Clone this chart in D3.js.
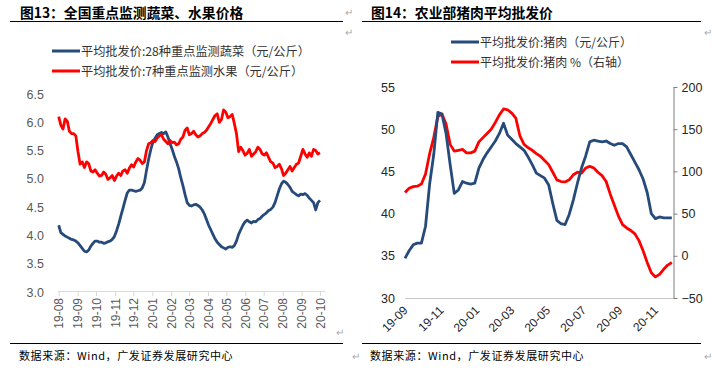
<!DOCTYPE html>
<html><head><meta charset="utf-8">
<script src="https://cdn.jsdelivr.net/npm/d3@7/dist/d3.min.js"></script>
<style>
body{margin:0;background:#fff;}
svg{display:block;font-family:Arial,"Liberation Sans","Noto Sans CJK SC",sans-serif;}
</style></head><body>
<svg id="c" width="712" height="369"></svg>
<script>
// ---------- Chart 13 data (every 3.5 days from 2019-08-01) ----------
const vegStart = "2019-08-01";
const vegPrice = [
  4.18,4.05,4.02,3.99,3.97,3.95,3.93,3.92,3.90,3.87,
  3.82,3.77,3.72,3.71,3.74,3.81,3.86,3.90,3.90,3.88,
  3.88,3.86,3.87,3.89,3.90,3.93,3.98,4.08,4.20,4.34,
  4.48,4.62,4.75,4.80,4.80,4.79,4.78,4.79,4.80,4.84,
  4.93,5.15,5.35,5.52,5.65,5.72,5.78,5.80,5.82,5.80,
  5.83,5.74,5.62,5.52,5.40,5.30,5.18,5.02,4.88,4.72,
  4.58,4.53,4.52,4.54,4.55,4.53,4.50,4.45,4.38,4.28,
  4.18,4.10,4.02,3.94,3.88,3.84,3.80,3.78,3.76,3.79,
  3.80,3.79,3.82,3.90,4.02,4.10,4.18,4.24,4.27,4.24,
  4.22,4.25,4.24,4.28,4.30,4.34,4.37,4.40,4.44,4.46,
  4.50,4.58,4.70,4.82,4.91,4.96,4.94,4.90,4.85,4.78,
  4.75,4.72,4.70,4.73,4.72,4.74,4.71,4.66,4.62,4.58,
  4.45,4.58,4.62];
const fruitPrice = [
  6.10,5.95,5.88,6.06,6.02,5.84,5.80,5.80,5.76,5.48,
  5.26,5.30,5.20,5.30,5.27,5.14,5.12,5.16,5.10,5.05,
  5.06,5.12,5.08,4.99,5.02,5.06,4.97,5.05,5.10,5.06,
  5.14,5.16,5.10,5.19,5.25,5.21,5.30,5.36,5.33,5.27,
  5.30,5.50,5.62,5.64,5.68,5.66,5.72,5.76,5.78,5.70,
  5.66,5.62,5.68,5.64,5.65,5.60,5.62,5.70,5.74,5.86,
  5.90,5.78,5.80,5.84,5.78,5.74,5.76,5.80,5.82,5.86,
  5.92,5.98,6.05,6.12,6.15,6.00,6.05,6.22,6.18,6.08,
  6.10,6.14,5.98,5.80,5.48,5.56,5.50,5.42,5.45,5.52,
  5.40,5.44,5.48,5.56,5.52,5.44,5.42,5.46,5.38,5.30,
  5.28,5.20,5.22,5.26,5.18,5.06,5.10,5.16,5.22,5.14,
  5.20,5.26,5.28,5.40,5.52,5.44,5.38,5.46,5.40,5.52,
  5.50,5.44,5.46];
const leftMonths = ["19-08","19-09","19-10","19-11","19-12","20-01","20-02","20-03","20-04","20-05","20-06","20-07","20-08","20-09","20-10"];
const leftYTicks = [3.0,3.5,4.0,4.5,5.0,5.5,6.0,6.5];

// ---------- Chart 14 data (weekly from 2019-09-01) ----------
const porkStart = "2019-09-01";
const porkPrice = [34.7,35.6,36.3,36.5,36.5,38.5,43.5,47.0,52.0,51.8,49.5,45.8,42.4,42.8,43.8,43.6,43.5,43.6,45.4,46.4,
  47.2,47.9,48.6,49.5,50.7,49.3,48.8,48.3,47.9,47.5,46.7,45.8,44.8,44.5,44.2,43.4,41.2,39.2,38.8,38.7,
  39.9,41.6,43.6,45.4,46.8,48.5,48.7,48.6,48.5,48.6,48.3,48.1,48.3,48.3,47.9,47.0,46.1,45.2,44.1,42.5,
  40.0,39.4,39.6,39.5,39.5,39.5];
const porkYoY = [75,80,82,82.5,85,97,121,140,165,168,156,132,124,125,126,122,122,124,135,140,
  145,150,158,167,174,173,169,163,142,132,128,125,121,118,113,108,99,90,88,87.5,
  90,96,99,98,104,106,104,99,95,88,73,60,47,37,33,30,26,18,6,-8,
  -20,-25,-22,-16,-11,-8];
const rightMonths = ["19-09","19-11","20-01","20-03","20-05","20-07","20-09","20-11"];
const rightLTicks = [30,35,40,45,50,55];
const rightRTicks = [-50,0,50,100,150,200];

const BLUE = "#264A7A", RED = "#FF0000";
const svg = d3.select("#c");
const parse = d3.timeParse("%Y-%m-%d");
const mparse = d3.timeParse("%y-%m");
const series = (start, n, hours) => d3.range(n).map(i => d3.timeHour.offset(parse(start), hours * i));

// ---------- frames / titles ----------
function frame(x0, x1, title, titleX) {
  svg.append("text").attr("x", titleX).attr("y", 18).attr("font-size", 13.8).attr("font-weight", "bold")
    .attr("font-family", "'Noto Sans CJK SC',sans-serif").attr("fill", "#000").text(title);
  svg.append("line").attr("x1", x0).attr("x2", x1).attr("y1", 21.5).attr("y2", 21.5).attr("stroke", "#000").attr("stroke-width", 1);
  svg.append("line").attr("x1", x0).attr("x2", x1).attr("y1", 343.5).attr("y2", 343.5).attr("stroke", "#000").attr("stroke-width", 1);
  svg.append("text").attr("x", titleX - 1).attr("y", 360).attr("font-size", 11).attr("letter-spacing", 0.6)
    .attr("font-family", "'Noto Sans CJK SC',sans-serif").attr("fill", "#000").text("数据来源：Wind，广发证券发展研究中心");
}
frame(10, 343, "图13：全国重点监测蔬菜、水果价格", 20);
frame(362, 701, "图14：农业部猪肉平均批发价", 371);
[[345,16],[345,36],[704,36],[704,360],[352,360],[336,336]].forEach(p =>
  svg.append("text").attr("x", p[0]).attr("y", p[1]).attr("font-size", 10).attr("fill", "#aaa").text("↵"));

function legend(x, y, color, label, fs) {
  svg.append("line").attr("x1", x).attr("x2", x + 28).attr("y1", y).attr("y2", y).attr("stroke", color).attr("stroke-width", 3);
  svg.append("text").attr("x", x + 29).attr("y", y + 4.5).attr("font-size", fs).attr("fill", "#333")
    .attr("font-family", "'Noto Sans CJK SC',sans-serif").text(label);
}
legend(52, 51, BLUE, "平均批发价:28种重点监测蔬菜（元/公斤）", 12.2);
legend(52, 71, RED, "平均批发价:7种重点监测水果（元/公斤）", 12.2);
legend(451, 42, BLUE, "平均批发价:猪肉（元/公斤）", 12);
legend(451, 62, RED, "平均批发价:猪肉 %（右轴）", 12);

// ---------- Chart 13 ----------
{
  const x = d3.scaleTime().domain([mparse("19-08"), mparse("20-10")]).range([58.7, 320]);
  const y = d3.scaleLinear().domain([3, 6.5]).range([292, 94]);
  const dates = series(vegStart, vegPrice.length, 84);
  const g = svg.append("g");
  const xa = g.append("g").attr("transform", "translate(0,291)")
    .call(d3.axisBottom(x).tickValues(leftMonths.map(mparse)).tickFormat(d3.timeFormat("%y-%m")).tickSize(5).tickSizeOuter(0));
  xa.select(".domain").attr("stroke", "#d9d9d9").attr("d", "M58,0.5H325");
  xa.selectAll(".tick line").attr("stroke", "#d9d9d9");
  xa.selectAll(".tick text").attr("font-size", 12).attr("fill", "#595959")
    .attr("transform", "rotate(-90)").attr("text-anchor", "end").attr("x", -7).attr("y", 0).attr("dy", "0.35em");
  const ya = g.append("g").attr("transform", "translate(44,0)")
    .call(d3.axisLeft(y).tickValues(leftYTicks).tickFormat(d3.format(".1f")).tickSize(0));
  ya.select(".domain").remove();
  ya.selectAll("text").attr("font-size", 12.5).attr("fill", "#595959").attr("x", 0);
  const line = vals => d3.line().x((d, i) => x(dates[i])).y(d => y(d))(vals);
  g.append("path").attr("d", line(vegPrice)).attr("fill", "none").attr("stroke", BLUE).attr("stroke-width", 2.8).attr("stroke-linejoin", "round");
  g.append("path").attr("d", line(fruitPrice)).attr("fill", "none").attr("stroke", RED).attr("stroke-width", 2.8).attr("stroke-linejoin", "round");
}

// ---------- Chart 14 ----------
{
  const x = d3.scaleTime().domain([parse("2019-09-01"), parse("2020-12-01")]).range([405, 673]);
  const yl = d3.scaleLinear().domain([30, 55]).range([298, 87]);
  const yr = d3.scaleLinear().domain([-50, 200]).range([298, 87]);
  const dates = series(porkStart, porkPrice.length, 168);
  const g = svg.append("g");
  const xa = g.append("g").attr("transform", "translate(0,298)")
    .call(d3.axisBottom(x).tickValues(rightMonths.map(mparse)).tickFormat(d3.timeFormat("%y-%m")).tickSize(0).tickSizeOuter(0));
  xa.select(".domain").attr("stroke", "#c8c8c8").attr("d", "M405,0.5H673");
  xa.selectAll(".tick text").attr("font-size", 12).attr("fill", "#262626")
    .attr("transform", "translate(-2,8) rotate(-45)").attr("text-anchor", "end").attr("x", 0).attr("y", 0).attr("dy", "0.6em");
  const yla = g.append("g").attr("transform", "translate(395,0)")
    .call(d3.axisLeft(yl).tickValues(rightLTicks).tickSize(0));
  yla.select(".domain").remove();
  yla.selectAll("text").attr("font-size", 12.5).attr("fill", "#262626").attr("x", 0);
  const yra = g.append("g").attr("transform", "translate(673.5,0)")
    .call(d3.axisRight(yr).tickValues(rightRTicks).tickSize(4).tickSizeOuter(0));
  yra.select(".domain").attr("stroke", "#7f7f7f");
  yra.selectAll(".tick line").attr("stroke", "#7f7f7f");
  yra.selectAll("text").attr("font-size", 12.5).attr("fill", "#262626").attr("x", 8);
  const lineL = d3.line().x((d, i) => x(dates[i])).y(d => yl(d));
  const lineR = d3.line().x((d, i) => x(dates[i])).y(d => yr(d));
  g.append("path").attr("d", lineR(porkYoY)).attr("fill", "none").attr("stroke", RED).attr("stroke-width", 2.8).attr("stroke-linejoin", "round");
  g.append("path").attr("d", lineL(porkPrice)).attr("fill", "none").attr("stroke", BLUE).attr("stroke-width", 2.8).attr("stroke-linejoin", "round");
}
</script></body></html>
